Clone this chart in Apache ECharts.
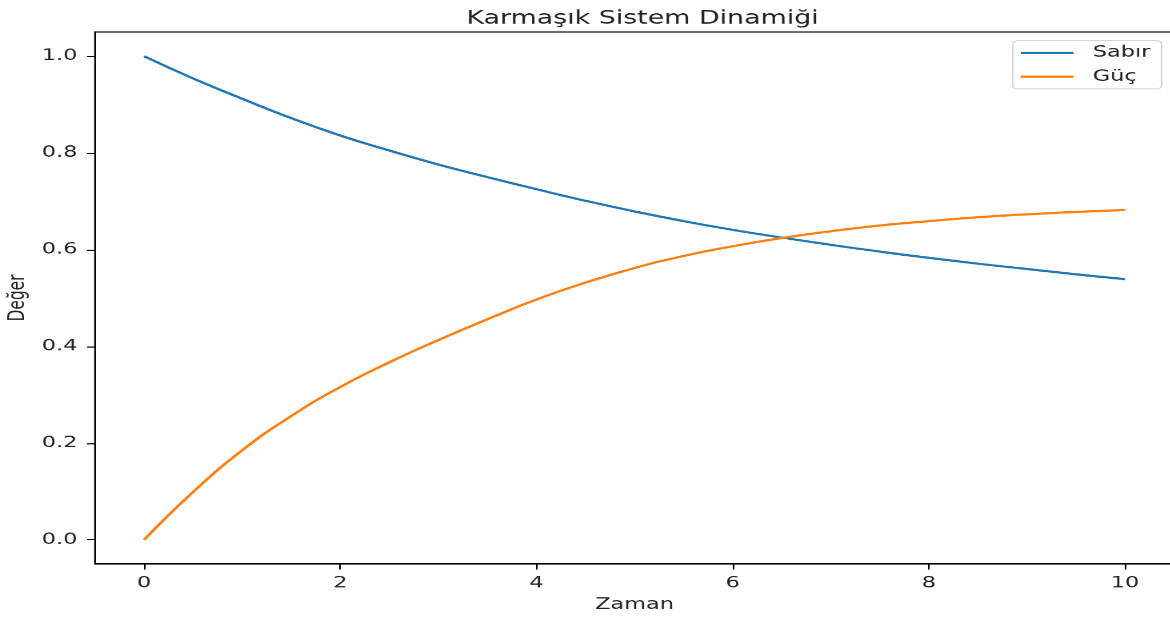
<!DOCTYPE html>
<html>
<head>
<meta charset="utf-8">
<script src="https://cdn.jsdelivr.net/npm/echarts@6/dist/echarts.min.js"></script>
<style>
html,body{margin:0;padding:0;background:#fff;overflow:hidden;width:1170px;height:617px;}
#wrap{position:absolute;left:0;top:0;width:740px;height:561px;transform:scale(1.6,1.1);transform-origin:0 0;}
#c{width:740px;height:561px;}
</style>
</head>
<body>
<div id="wrap"><div id="c"></div></div>
<script>
// Data
const timeValues = [0, 0.5, 1, 1.5, 2, 2.5, 3, 3.5, 4, 4.5, 5, 5.5, 6, 6.5, 7, 7.5, 8, 8.5, 9, 9.5, 10];
const sabirValues = [1.0, 0.954, 0.912, 0.872, 0.836, 0.805, 0.776, 0.750, 0.725, 0.701, 0.679, 0.659, 0.641, 0.625, 0.610, 0.596, 0.583, 0.571, 0.560, 0.549, 0.539];
const gucValues = [0.0, 0.099, 0.185, 0.256, 0.316, 0.367, 0.413, 0.456, 0.497, 0.532, 0.562, 0.587, 0.607, 0.624, 0.638, 0.650, 0.659, 0.667, 0.673, 0.678, 0.682];
const xTicks = [0, 2, 4, 6, 8, 10];
const yTicks = [0.0, 0.2, 0.4, 0.6, 0.8, 1.0];
const seriesNames = ['Sabır', 'Güç'];
const titleText = 'Karmaşık Sistem Dinamiği';
const xLabel = 'Zaman';
const yLabel = 'Değer';

const pairs = vals => timeValues.map((t, i) => [t, vals[i]]);
const FONT = 'DejaVu Sans';
const TXT = '#222';

const chart = echarts.init(document.getElementById('c'), null, {renderer: 'canvas', devicePixelRatio: 2});
chart.setOption({
  animation: false,
  backgroundColor: '#fff',
  title: {
    text: titleText,
    left: 396.6,
    top: 3.5,
    textAlign: 'center',
    textStyle: {fontFamily: FONT, fontSize: 16.8, fontWeight: 'normal', color: TXT}
  },
  legend: {
    orient: 'vertical',
    left: 633,
    top: 37,
    padding: [4, 7, 4, 4],
    itemWidth: 33,
    itemHeight: 14,
    itemGap: 7.8,
    itemStyle: {opacity: 0, borderWidth: 0},
    borderColor: '#d6d6d6',
    borderWidth: 1,
    borderRadius: 3,
    backgroundColor: 'rgba(255,255,255,0.8)',
    textStyle: {fontFamily: FONT, fontSize: 14, color: TXT, padding: [0, 0, 0, 7]},
    data: seriesNames
  },
  grid: {
    left: 59.4, top: 29.1, width: 674.4, height: 483.6,
    containLabel: false, outerBoundsMode: 'none',
    show: true, borderColor: '#000', borderWidth: 1, backgroundColor: 'transparent'
  },
  xAxis: {
    type: 'value', min: -0.5, max: 10.5,
    name: xLabel, nameLocation: 'middle', nameGap: 30, nameMoveOverlap: false,
    nameTextStyle: {fontFamily: FONT, fontSize: 14, color: TXT},
    axisLine: {show: true, onZero: false, lineStyle: {color: '#000', width: 1}},
    axisTick: {show: true, length: 5, lineStyle: {color: '#000', width: 1}, customValues: xTicks},
    axisLabel: {fontFamily: FONT, fontSize: 14, color: TXT, margin: 10.5, customValues: xTicks,
      formatter: v => String(v)},
    splitLine: {show: false}
  },
  yAxis: {
    type: 'value', min: -0.05, max: 1.05,
    name: yLabel, nameLocation: 'middle', nameGap: 41, nameRotate: 90, nameMoveOverlap: false,
    nameTextStyle: {fontFamily: FONT, fontSize: 14, color: TXT},
    axisLine: {show: true, onZero: false, lineStyle: {color: '#000', width: 1}},
    axisTick: {show: true, length: 5, lineStyle: {color: '#000', width: 1}, customValues: yTicks},
    axisLabel: {fontFamily: FONT, fontSize: 14, color: TXT, margin: 11, customValues: yTicks,
      formatter: v => Number(v).toFixed(1)},
    splitLine: {show: false}
  },
  series: [
    {name: seriesNames[0], type: 'line', data: pairs(sabirValues), symbol: 'none', smooth: 0.5,
      lineStyle: {color: '#1f77b4', width: 2}, itemStyle: {color: '#1f77b4'}},
    {name: seriesNames[1], type: 'line', data: pairs(gucValues), symbol: 'none', smooth: 0.5,
      lineStyle: {color: '#ff7f0e', width: 2}, itemStyle: {color: '#ff7f0e'}}
  ]
});
</script>
</body>
</html>
